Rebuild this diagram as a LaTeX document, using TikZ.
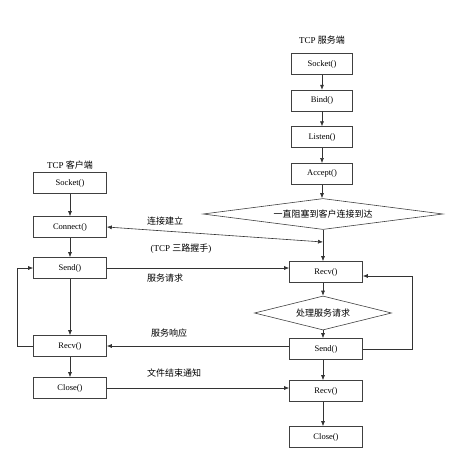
\documentclass[tikz,border=0pt]{standalone}
\usepackage{fontspec}
\setmainfont{Liberation Serif}
\newfontfamily\cjk{Noto Sans CJK SC}
\usetikzlibrary{shapes.geometric, arrows.meta, positioning}

\begin{document}
\begin{tikzpicture}[
    x=1pt, y=-1pt,
    box/.style={rectangle, draw=black!75, line width=0.6pt, minimum width=73pt,
                minimum height=21pt, inner sep=0pt, font=\fontsize{8.5}{10}\selectfont},
    sbox/.style={box, minimum width=61pt},
    decide/.style={diamond, draw=black!75, line width=0.6pt, inner sep=0pt,
                   font=\cjk\fontsize{9}{10}\selectfont},
    lbl/.style={inner sep=1pt, font=\fontsize{9}{10}\selectfont},
    arr/.style={-{Latex[length=5pt,width=4pt]}, line width=0.6pt, black!80},
    darr/.style={{Latex[length=5pt,width=4pt]}-{Latex[length=5pt,width=4pt]}, line width=0.6pt, black!80}
]
\useasboundingbox (0,0) rectangle (457,459);
% server side
\node[lbl] (stitle) at (322,40) {TCP {\cjk 服务端}};
\node[sbox] (ssock) at (322,64) {Socket()};
\node[sbox, below=15pt of ssock] (sbind) {Bind()};
\node[sbox, below=15pt of sbind] (slisten) {Listen()};
\node[sbox, below=15pt of slisten] (saccept) {Accept()};
\node[decide, aspect=8, minimum width=240pt, minimum height=31pt] (wait) at (323,214) {一直阻塞到客户连接到达};
\node[box] (srecv) at (326,272) {Recv()};
\node[decide, aspect=4, minimum width=137pt, minimum height=34pt] (proc) at (323,313) {处理服务请求};
\node[box] (ssend) at (326,349) {Send()};
\node[box] (srecv2) at (326,391) {Recv()};
\node[box] (sclose) at (326,437) {Close()};
\coordinate (hs) at (323,242);
% client side
\node[lbl] (ctitle) at (70,165) {TCP {\cjk 客户端}};
\node[box] (csock) at (70,183) {Socket()};
\node[box] (cconn) at (70,227) {Connect()};
\node[box] (csend) at (70,268) {Send()};
\node[box] (crecv) at (70,346) {Recv()};
\node[box] (cclose) at (70,388) {Close()};
% labels
\node[lbl] (l1) at (165,221) {\cjk 连接建立};
\node[lbl] (l2) at (181,249) {(TCP {\cjk 三路握手})};
\node[lbl] (l3) at (165,278) {\cjk 服务请求};
\node[lbl] (l4) at (169,333) {\cjk 服务响应};
\node[lbl] (l5) at (174,373) {\cjk 文件结束通知};

\draw[arr] (ssock)--(sbind); \draw[arr] (sbind)--(slisten); \draw[arr] (slisten)--(saccept);
\draw[arr] (saccept.south)--(saccept.south |- wait.north);
\draw[arr] (wait.south)--(wait.south |- srecv.north);
\draw[arr] (proc.north |- srecv.south)--(proc.north);
\draw[arr] (proc.south)--(proc.south |- ssend.north);
\draw[arr] (proc.south |- ssend.south)--(proc.south |- srecv2.north);
\draw[arr] (proc.south |- srecv2.south)--(proc.south |- sclose.north);
\draw[arr] (ssend.east) -- ++(49,0) |- ([yshift=-4pt]srecv.east);
\draw[arr] (csock)--(cconn); \draw[arr] (cconn)--(csend); \draw[arr] (csend)--(crecv);
\draw[arr] (crecv)--(cclose);
\draw[arr] (crecv.west) -- ++(-16,0) |- (csend.west);
\draw[darr] (cconn.east)--(hs);
\draw[arr] (csend.east)--(csend.east -| srecv.west);
\draw[arr] (crecv.east -| ssend.west)--(crecv.east);
\draw[arr] (cclose.east)--(cclose.east -| srecv2.west);
\end{tikzpicture}
\end{document}
